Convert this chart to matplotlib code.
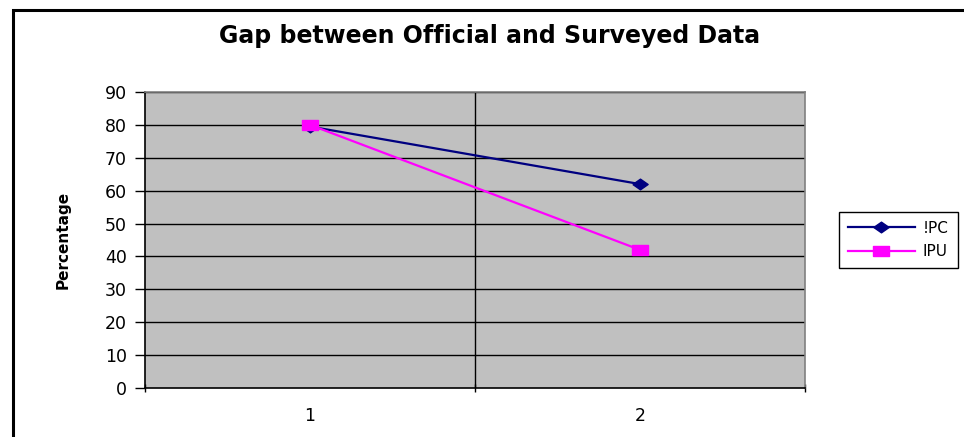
import matplotlib
matplotlib.use("Agg")
import matplotlib.pyplot as plt
from matplotlib.patches import Rectangle

# series values per survey round
categories = [1, 2]
ipc_values = [79.5, 62]
ipu_values = [80, 42]
series_labels = ["!PC", "IPU"]
y_ticks = list(range(0, 100, 10))

fig = plt.figure(figsize=(9.64, 4.37), dpi=100)
fig.patch.set_facecolor("white")

# chart frame that runs off the bottom/right edge
fig.patches.append(Rectangle((13 / 964, -0.1), 1.2, 1.1 - 10 / 437,
                             transform=fig.transFigure, fill=False,
                             edgecolor="black", linewidth=2.2, clip_on=False))

ax = fig.add_axes([145 / 964, 1 - 388 / 437, 660 / 964, 296 / 437])
ax.set_facecolor("#C0C0C0")

# wide-ish markers, like the stretched excel look
diamond = [(-1, 0), (0, 0.7), (1, 0), (0, -0.7), (-1, 0)]
rect = [(-1, -0.65), (1, -0.65), (1, 0.65), (-1, 0.65), (-1, -0.65)]

ax.plot(categories, ipc_values, color="#000080", linewidth=1.6,
        marker=diamond, markersize=11, markerfacecolor="#000080",
        markeredgecolor="#000080", label=series_labels[0], zorder=3)
ax.plot(categories, ipu_values, color="#FF00FF", linewidth=1.6,
        marker=rect, markersize=11, markerfacecolor="#FF00FF",
        markeredgecolor="#FF00FF", label=series_labels[1], zorder=4)

ax.set_xlim(0.5, 2.5)
ax.set_ylim(0, 90)
ax.set_yticks(y_ticks)
ax.set_yticklabels([str(v) for v in y_ticks], fontsize=12.5, family="DejaVu Sans")

# category labels between tick marks
ax.set_xticks([0.5, 1.5, 2.5])
ax.set_xticklabels([])
ax.set_xticks(categories, minor=True)
ax.set_xticklabels([str(c) for c in categories], minor=True,
                   fontsize=12.5, family="DejaVu Sans")
ax.tick_params(axis="x", which="minor", length=0, pad=14)
ax.tick_params(axis="x", which="major", length=6, width=1, direction="inout")
ax.tick_params(axis="y", length=7, width=1, direction="out", pad=6)

for y in y_ticks[1:]:
    ax.axhline(y, color="black", linewidth=1, zorder=1)
ax.axvline(1.5, color="black", linewidth=1, zorder=1)

ax.spines["left"].set_color("black")
ax.spines["bottom"].set_color("black")
ax.spines["top"].set_color("#808080")
ax.spines["right"].set_color("#808080")
for s in ax.spines.values():
    s.set_linewidth(1.2)

ax.set_ylabel("Percentage", fontsize=11, fontweight="bold", family="DejaVu Sans")
ax.yaxis.set_label_coords(-0.113, 0.5)

fig.text(490 / 964, 1 - 36 / 437, "Gap between Official and Surveyed Data",
         ha="center", va="center", fontsize=17, fontweight="bold",
         family="DejaVu Sans")

leg = ax.legend(loc="center left", bbox_to_anchor=(831 / 964, 1 - 240 / 437),
                bbox_transform=fig.transFigure, frameon=True, fancybox=False,
                edgecolor="black", framealpha=1, borderpad=0.6,
                handlelength=4.4, handletextpad=0.5, labelspacing=0.55,
                prop={"family": "DejaVu Sans", "size": 11})
leg.get_frame().set_linewidth(1)

fig.savefig("out.png", dpi=100)
